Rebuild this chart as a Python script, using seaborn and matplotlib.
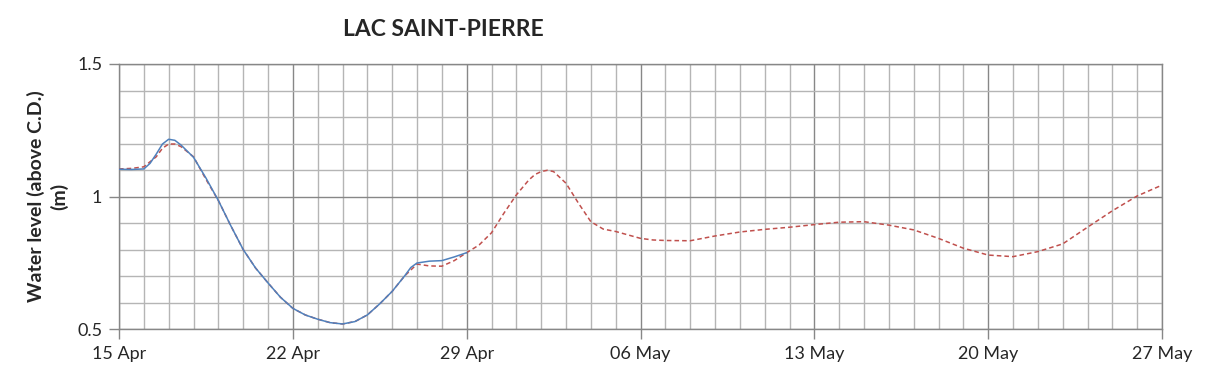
import pandas as pd
import numpy as np
import matplotlib
matplotlib.use("Agg")
import matplotlib.pyplot as plt
import matplotlib.dates as mdates
import seaborn as sns

# observed water level (blue), days after 15 Apr
obs_days = [0, 0.5, 1, 1.25, 1.5, 1.75, 2, 2.25, 2.5, 3, 3.5, 4, 4.5, 5, 5.5, 6,
            6.5, 7, 7.5, 8, 8.5, 9, 9.5, 10, 10.5, 11, 11.5, 11.75, 12, 12.5, 13,
            13.5, 14]
obs_level = [1.103, 1.102, 1.104, 1.125, 1.16, 1.198, 1.216, 1.212, 1.194, 1.148,
             1.07, 0.985, 0.89, 0.80, 0.73, 0.674, 0.62, 0.578, 0.553, 0.537,
             0.524, 0.519, 0.528, 0.553, 0.595, 0.642, 0.70, 0.732, 0.749, 0.756,
             0.758, 0.772, 0.788]

# forecast water level (red dashed)
fc_days = [0, 0.5, 1, 1.5, 1.75, 2, 2.25, 2.5, 3, 3.5, 4, 4.5, 5, 5.5, 6, 6.5,
           7, 7.5, 8, 8.5, 9, 9.5, 10, 10.5, 11, 11.5, 12, 12.5, 13, 13.5, 14,
           14.5, 15, 15.5, 16, 16.5, 16.75, 17, 17.25, 17.5, 18, 18.5, 19, 19.5,
           20, 20.5, 21, 21.5, 22, 23, 24, 25, 26, 27, 28, 29, 30, 31, 32, 33,
           34, 35, 36, 37, 38, 39, 40, 41, 42]
fc_level = [1.104, 1.106, 1.112, 1.15, 1.182, 1.198, 1.198, 1.188, 1.15, 1.065,
            0.985, 0.89, 0.80, 0.73, 0.674, 0.62, 0.578, 0.553, 0.537, 0.524,
            0.519, 0.528, 0.553, 0.595, 0.642, 0.70, 0.745, 0.738, 0.737, 0.758,
            0.788, 0.817, 0.863, 0.937, 1.006, 1.062, 1.083, 1.094, 1.099, 1.094,
            1.05, 0.975, 0.905, 0.877, 0.868, 0.855, 0.842, 0.836, 0.834, 0.833,
            0.851, 0.866, 0.876, 0.884, 0.894, 0.903, 0.905, 0.892, 0.874, 0.842,
            0.805, 0.779, 0.773, 0.792, 0.821, 0.884, 0.946, 1.002, 1.043]

start = pd.Timestamp("2019-04-15")
end = pd.Timestamp("2019-05-27")

obs = pd.DataFrame({"date": start + pd.to_timedelta(obs_days, unit="D"), "level": obs_level})
fc = pd.DataFrame({"date": start + pd.to_timedelta(fc_days, unit="D"), "level": fc_level})

sns.set_style("white")
plt.rcParams["font.family"] = ["Lato", "DejaVu Sans"]

fig = plt.figure(figsize=(12.09, 3.78), dpi=100)
ax = fig.add_axes([119 / 1209, 1 - 329 / 378, (1162 - 119) / 1209, (329 - 64) / 378])

sns.lineplot(data=fc, x="date", y="level", ax=ax, color="#C0504D", lw=1.1,
             linestyle=(0, (3, 2)), zorder=3)
sns.lineplot(data=obs, x="date", y="level", ax=ax, color="#4F81BD", lw=1.1, zorder=4)

ax.set_xlim(start, end)
ax.set_ylim(0.5, 1.5)

ax.set_yticks([0.5, 1.0, 1.5])
ax.set_yticklabels(["0.5", "1", "1.5"])
ax.set_yticks(np.arange(0.5, 1.51, 0.1), minor=True)
ax.set_xticks(pd.date_range(start, end, freq="7D"))
ax.set_xticks(pd.date_range(start, end, freq="D"), minor=True)
ax.xaxis.set_major_formatter(mdates.DateFormatter("%d %b"))

ax.grid(which="major", color="#878787", lw=1.0)
ax.grid(which="minor", color="#B5B5B5", lw=1.0)
ax.set_axisbelow(True)

ax.tick_params(which="major", direction="out", length=7, width=1, color="#878787",
               labelsize=13, pad=5, bottom=True, left=True)
ax.tick_params(which="minor", length=0)
for s in ax.spines.values():
    s.set_color("#878787")
    s.set_linewidth(1.0)

ax.set_xlabel("")
ax.set_ylabel("Water level (above C.D.)\n(m)", fontsize=14, fontweight="bold",
              linespacing=1.3)
ax.yaxis.set_label_coords((68 - 119) / 1043, 0.5)

fig.text(443 / 1209, 1 - 30 / 378, "LAC SAINT-PIERRE", ha="center", va="center",
         fontsize=16.5, fontweight="bold")

fig.savefig("out.png", dpi=100)
